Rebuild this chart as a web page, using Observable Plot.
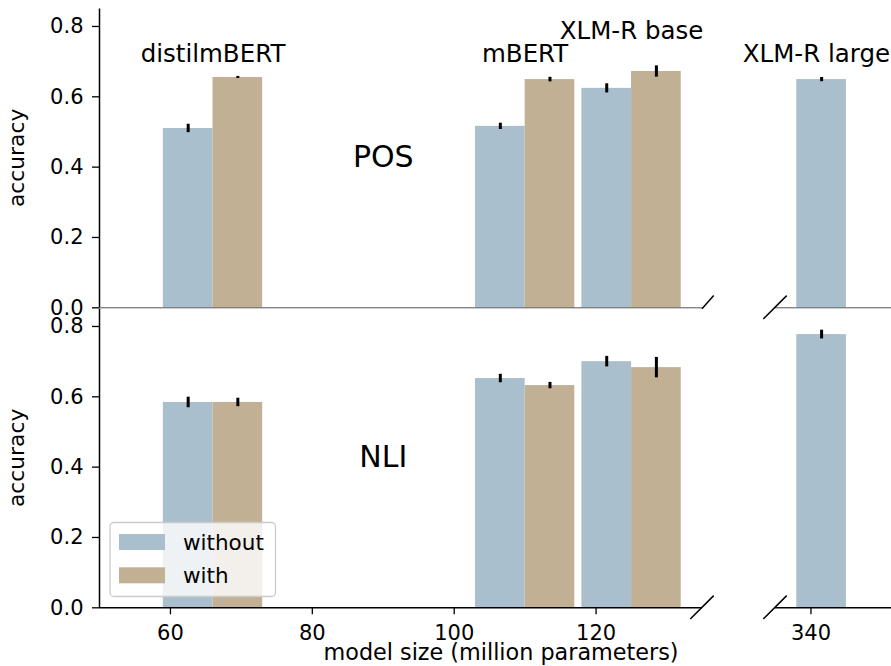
<!DOCTYPE html>
<html><head><meta charset="utf-8">
<script src="https://cdn.jsdelivr.net/npm/d3@7"></script>
<script src="https://cdn.jsdelivr.net/npm/@observablehq/plot@0.6"></script>
<style>
html,body{margin:0;padding:0;background:#fff;}
#chart{position:relative;width:891px;height:666px;overflow:hidden;font-family:"DejaVu Sans",sans-serif;}
#chart svg{position:absolute;left:0;top:0;}
</style></head><body><div id="chart"></div>
<script>
// ---------- data ----------
const models = ["distilmBERT", "mBERT", "XLM-R base", "XLM-R large"];
const modelSize = [66, 110, 125, 345]; // million parameters
const conditions = ["without", "with"];
const posWithout = [0.510, 0.516, 0.624, 0.649];
const posWithoutErr = [0.012, 0.009, 0.013, 0.006];
const posWith = [0.655, 0.649, 0.672, null];
const posWithErr = [0.003, 0.0065, 0.016, null];
const nliWithout = [0.584, 0.652, 0.700, 0.777];
const nliWithoutErr = [0.015, 0.012, 0.015, 0.0125];
const nliWith = [0.584, 0.632, 0.683, null];
const nliWithErr = [0.012, 0.009, 0.029, null];
const tasks = ["POS", "NLI"];
const yTicks = [0, 0.2, 0.4, 0.6, 0.8];
const xTicksLeft = [60, 80, 100, 120];
const xTicksRight = [340];

// ---------- layout / style ----------
const W = 891, H = 666;
const FONT = '"DejaVu Sans", sans-serif';
const COLORS = ["#aabfcd", "#c1b094"];
const BAR_W = 7; // bar width in model-size units
const xLeft = {domain: [50, 135], range: [99, 702]};
const pxPerUnit = (702 - 99) / (135 - 50);
const xRight = {domain: [335, 335 + (W - 775) / pxPerUnit], range: [775, W]};
const yTop = [307.3, 8.4], yBot = [607.3, 308.4];

function tableFor(withoutVals, withoutErr, withVals, withErr) {
  const out = [];
  models.forEach((m, i) => {
    if (withoutVals[i] != null) out.push({model: m, size: modelSize[i], cond: "without", v: withoutVals[i], e: withoutErr[i]});
    if (withVals[i] != null) out.push({model: m, size: modelSize[i], cond: "with", v: withVals[i], e: withErr[i]});
  });
  return out;
}
const posData = tableFor(posWithout, posWithoutErr, posWith, posWithErr);
const nliData = tableFor(nliWithout, nliWithoutErr, nliWith, nliWithErr);
const labelData = models.map((m, i) => ({model: m, size: modelSize[i]}));

const chart = document.getElementById("chart");
const LBL = 24.5;

function panel({x, yRange, data, task, isTop, isLeft}) {
  const marks = [];
  const x1 = d => d.cond === "without" ? d.size - BAR_W : d.size;
  const x2 = d => d.cond === "without" ? d.size : d.size + BAR_W;
  const xc = d => d.cond === "without" ? d.size - BAR_W / 2 : d.size + BAR_W / 2;
  marks.push(Plot.rectY(data, {x1, x2, y1: 0, y2: "v", fill: "cond", inset: 0}));
  marks.push(Plot.ruleX(data, {x: xc, y1: d => d.v - d.e, y2: d => d.v + d.e, stroke: "black", strokeWidth: 3}));
  // baseline
  marks.push(Plot.ruleY([0], {stroke: isTop ? "#555" : "black", strokeWidth: isTop ? 1 : 1.5}));
  if (isLeft) {
    marks.push(Plot.ruleX([x.domain[0]], {stroke: "black", strokeWidth: 1.5}));
    marks.push(Plot.axisY({ticks: yTicks, tickFormat: d3.format(".1f"), tickSize: 7, tickPadding: 9, label: null, strokeWidth: 1.3}));
    marks.push(Plot.text([task], {x: 90, y: 0.4, text: d => d, fontSize: 30, dy: -0.32 * 30}));
  }
  if (!isTop) {
    marks.push(Plot.axisX({ticks: isLeft ? xTicksLeft : xTicksRight, tickFormat: d3.format("d"), tickSize: 7, tickPadding: 10, label: null, strokeWidth: 1.3}));
  }
  if (isTop) {
    const inPanel = labelData.filter(d => d.size >= x.domain[0] && d.size <= x.domain[1]);
    // labels centred on the model size; in the narrow right panel the label
    // is pulled back left so it stays inside the figure
    marks.push(Plot.text(inPanel, {
      x: "size",
      y: d => d.model === "XLM-R base" ? 0.765 : 0.7,
      text: "model", fontSize: LBL, dy: -0.32 * LBL, dx: isLeft ? 0 : -30
    }));
  }
  const p = Plot.plot({
    width: W, height: H,
    marginLeft: x.range[0], marginRight: W - x.range[1],
    marginTop: yRange[1], marginBottom: H - yRange[0],
    x: {domain: x.domain, range: x.range, axis: null},
    y: {domain: [0, 0.85], range: yRange, axis: null},
    color: {domain: conditions, range: COLORS},
    style: {fontFamily: FONT, fontSize: "21px", color: "black", background: "transparent", overflow: "visible"},
    marks
  });
  chart.appendChild(p);
  return p;
}

const tl = panel({x: xLeft, yRange: yTop, data: posData.filter(d => d.size < 200), task: "POS", isTop: true, isLeft: true});
const tr = panel({x: xRight, yRange: yTop, data: posData.filter(d => d.size > 200), task: "POS", isTop: true, isLeft: false});
const bl = panel({x: xLeft, yRange: yBot, data: nliData.filter(d => d.size < 200), task: "NLI", isTop: false, isLeft: true});
const br = panel({x: xRight, yRange: yBot, data: nliData.filter(d => d.size > 200), task: "NLI", isTop: false, isLeft: false});

// ---------- overlay: axis labels, break marks, legend ----------
const ov = d3.select(chart).append("svg").attr("width", W).attr("height", H)
  .style("font-family", FONT).style("overflow", "visible");

// break marks (diagonals at the axes corners)
const d = 11.7;
const bx = tl.scale("x").apply(135), rx = tr.scale("x").apply(335);
const ty0 = tl.scale("y").apply(0), by0 = bl.scale("y").apply(0);
const brk = [
  [bx, ty0 + 1.5, bx + d, ty0 - d],
  [rx - d, ty0 + d, rx + d, ty0 - d],
  [bx - d, by0 + d, bx + d, by0 - d],
  [rx - d, by0 + d, rx + d, by0 - d]
];
ov.selectAll("line.brk").data(brk).join("line").attr("class", "brk")
  .attr("x1", a => a[0]).attr("y1", a => a[1]).attr("x2", a => a[2]).attr("y2", a => a[3])
  .attr("stroke", "black").attr("stroke-width", 1.5);

// y labels
[(yTop[0] + yTop[1]) / 2, (yBot[0] + yBot[1]) / 2].forEach(cy => {
  ov.append("text").attr("transform", `translate(24,${cy}) rotate(-90)`)
    .attr("text-anchor", "middle").attr("font-size", 21.8).text("accuracy");
});
// x label
ov.append("text").attr("x", 501).attr("y", 659.5).attr("text-anchor", "middle")
  .attr("font-size", 22.3).text("model size (million parameters)");

// legend
const lg = ov.append("g");
lg.append("rect").attr("x", 110).attr("y", 522.5).attr("width", 165.5).attr("height", 74)
  .attr("rx", 4).attr("fill", "white").attr("fill-opacity", 0.8).attr("stroke", "#cccccc").attr("stroke-width", 1.3);
conditions.forEach((c, i) => {
  const y = 534 + i * 33.3;
  lg.append("rect").attr("x", 119).attr("y", y).attr("width", 46).attr("height", 16).attr("fill", COLORS[i]);
  lg.append("text").attr("x", 183).attr("y", y + 15.5).attr("font-size", 21.5).text(c);
});
</script></body></html>
